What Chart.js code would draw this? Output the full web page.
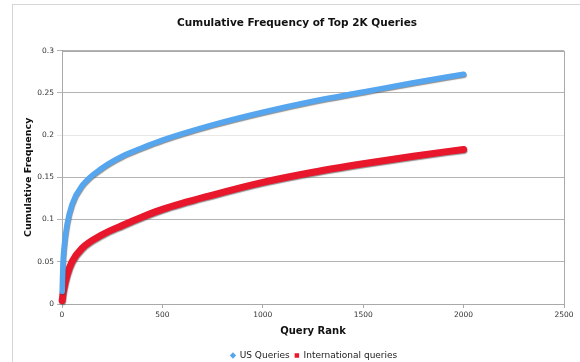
<!DOCTYPE html>
<html>
<head>
<meta charset="utf-8">
<script src="https://cdn.jsdelivr.net/npm/chart.js@4.4.1/dist/chart.umd.min.js"></script>
<style>
    html, body { margin: 0; padding: 0; background: #fff; }
</style>
</head>
<body>
<canvas id="chart-cumulative" width="580" height="362"></canvas>
<script>
let queryRanks = [1, 5, 10, 25, 50, 100, 200, 300, 400, 500, 750, 1000, 1250, 1500, 1750, 2000];
let usFrequency = [0.015, 0.048, 0.066, 0.094, 0.118, 0.140, 0.161, 0.175, 0.185, 0.194, 0.212, 0.227, 0.240, 0.251, 0.262, 0.272];
let intlFrequency = [0.004, 0.012, 0.019, 0.034, 0.050, 0.066, 0.082, 0.093, 0.103, 0.112, 0.129, 0.144, 0.156, 0.166, 0.175, 0.183];
let rankTicks = [0, 500, 1000, 1500, 2000, 2500];
let frequencyTicks = [0, 0.05, 0.1, 0.15, 0.2, 0.25, 0.3];

let cumulativeCanvas = document.getElementById('chart-cumulative');

// grey drop shadow under the thick lines
const lineShadow = {
    id: 'lineShadow',
    beforeDatasetDraw(chart) {
        const ctx = chart.ctx;
        ctx.save();
        ctx.shadowColor = 'rgba(70, 70, 70, 0.6)';
        ctx.shadowOffsetX = 0.5;
        ctx.shadowOffsetY = 1;
        ctx.shadowBlur = 1;
    },
    afterDatasetDraw(chart) {
        chart.ctx.restore();
    },
};

// outer frame and plot box
const frames = {
    id: 'frames',
    beforeDraw(chart) {
        const ctx = chart.ctx;
        ctx.save();
        ctx.strokeStyle = '#d6d6d6';
        ctx.lineWidth = 1;
        ctx.strokeRect(12.5, 4.5, 620, 400);
        ctx.restore();
    },
    beforeDatasetsDraw(chart) {
        const {ctx, chartArea: a} = chart;
        ctx.save();
        ctx.strokeStyle = '#a9a9a9';
        ctx.lineWidth = 1;
        ctx.strokeRect(Math.round(a.left) + 0.5, Math.round(a.top) + 0.5, Math.round(a.right - a.left), Math.round(a.bottom - a.top));
        ctx.restore();
    },
    afterLayout(chart) {
        const shift = (box, centre) => {
            const d = centre - (box.left + box.right) / 2;
            box.left += d;
            box.right += d;
        };
        shift(chart.titleBlock, 297);
        shift(chart.legend, 314);
    },
};

new Chart(cumulativeCanvas, {
    type: 'line',
    data: {
        datasets: [{
            label: 'US Queries',
            data: queryRanks.map((r, i) => ({x: r, y: usFrequency[i]})),
            borderColor: '#55a6ef',
            backgroundColor: '#55a6ef',
            pointBackgroundColor: '#55a6ef',
            pointBorderWidth: 0,
            pointStyle: 'rectRot',
            borderWidth: 5.5,
        }, {
            label: 'International queries',
            data: queryRanks.map((r, i) => ({x: r, y: intlFrequency[i]})),
            borderColor: '#e8172c',
            backgroundColor: '#e8172c',
            pointBackgroundColor: '#e8172c',
            pointBorderWidth: 0,
            pointStyle: 'rect',
            borderWidth: 7,
        }],
    },
    options: {
        responsive: false,
        animation: false,
        devicePixelRatio: 1,
        clip: false,
        layout: {
            padding: {left: 18, right: 16, top: 4, bottom: -8},
        },
        elements: {
            line: {
                borderCapStyle: 'round',
                cubicInterpolationMode: 'monotone',
            },
            point: {
                radius: 0,
                borderWidth: 0,
                hoverRadius: 0,
            },
        },
        scales: {
            x: {
                type: 'linear',
                min: 0,
                max: 2500,
                afterBuildTicks: axis => {
                    axis.ticks = rankTicks.map(v => ({value: v}));
                },
                afterFit: scale => {
                    scale.height = 42;
                },
                ticks: {
                    padding: 3,
                    maxRotation: 0,
                    color: '#333',
                    font: {family: 'DejaVu Sans', size: 7.5},
                    callback: v => String(v),
                },
                grid: {
                    drawOnChartArea: false,
                    tickLength: 4,
                    color: '#a9a9a9',
                },
                border: {color: '#999'},
                title: {
                    display: true,
                    text: 'Query Rank',
                    color: '#111',
                    padding: {top: 5, bottom: 9},
                    font: {family: 'DejaVu Sans', size: 10, weight: 'bold'},
                },
            },
            y: {
                min: 0,
                max: 0.3,
                afterBuildTicks: axis => {
                    axis.ticks = frequencyTicks.map(v => ({value: v}));
                },
                afterFit: scale => {
                    scale.width = 44;
                },
                ticks: {
                    padding: 3,
                    color: '#333',
                    font: {family: 'DejaVu Sans', size: 7.5},
                    callback: v => String(v),
                },
                grid: {
                    tickLength: 5,
                    color: ctx => (ctx.tick && ctx.tick.value === 0.2 ? '#e8e8e8' : '#b4b4b4'),
                },
                border: {color: '#999'},
                title: {
                    display: true,
                    text: 'Cumulative Frequency',
                    color: '#111',
                    padding: {top: 5.3, bottom: 4},
                    font: {family: 'DejaVu Sans', size: 9.5, weight: 'bold'},
                },
            },
        },
        plugins: {
            title: {
                display: true,
                text: 'Cumulative Frequency of Top 2K Queries',
                color: '#111',
                padding: {top: 13, bottom: 21},
                font: {family: 'DejaVu Sans', size: 10.5, weight: 'bold'},
            },
            legend: {
                position: 'bottom',
                labels: {
                    usePointStyle: true,
                    boxWidth: 4.5,
                    boxHeight: 4.5,
                    padding: 5,
                    color: '#222',
                    font: {family: 'DejaVu Sans', size: 9},
                },
            },
            tooltip: {enabled: false},
        },
    },
    plugins: [lineShadow, frames],
});
</script>
</body>
</html>
